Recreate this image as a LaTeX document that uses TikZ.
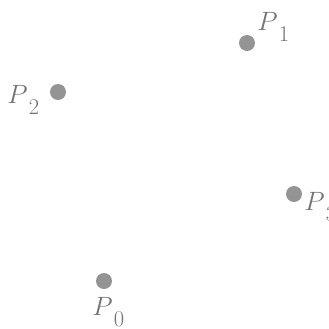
\documentclass[tikz,border=0pt]{standalone}
\usepackage{tikz}
\usetikzlibrary{positioning}

\newcommand{\ptname}[1]{$P$\kern1pt\raisebox{-9pt}{\scalebox{0.85}{$#1$}}}

\begin{document}
\begin{tikzpicture}[x=0.03cm,y=-0.03cm,
    pt/.style={circle, fill=black!42, inner sep=0pt, minimum size=0.48cm},
    lbl/.style={font=\huge, scale=1.09, transform shape, text=black!55, inner sep=0pt, anchor=base west}]
        \useasboundingbox (0,0) rectangle (328,329);
        % Points
        \node (p0) [pt] at (104,281) {};
        \node (p1) [pt] at (247,43) {};
        \node (p2) [pt] at (58,92) {};
        \node (p3) [pt] at (294,194) {};

        % Labels
        \node (l0) [lbl] at (92,315) {\ptname{0}};
        \node (l1) [lbl] at (257,30) {\ptname{1}};
        \node (l2) [lbl] at (7,103) {\ptname{2}};
        \node (l3) [lbl] at (304,210) {\ptname{3}};
    \end{tikzpicture}
\end{document}
